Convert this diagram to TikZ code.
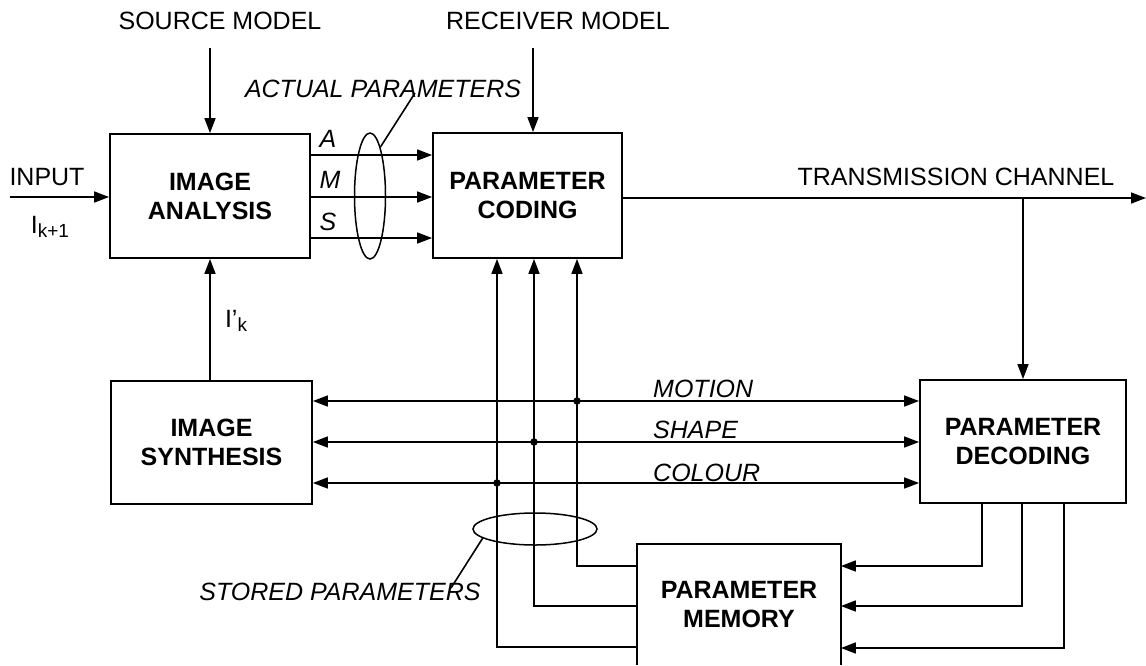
\documentclass[tikz,border=0pt]{standalone}
\usepackage{fontspec}
\setmainfont{Liberation Sans}
\usetikzlibrary{arrows.meta,calc,shapes.geometric}
\newcommand{\lowsub}[1]{\raisebox{-4pt}{\fontsize{19}{20}\selectfont #1}}
\begin{document}
\begin{tikzpicture}[x=1pt,y=-1pt,
  every node/.style={font=\fontsize{25}{29}\selectfont, inner sep=0pt},
  box/.style={draw, line width=1.8pt, font=\fontsize{25}{29}\selectfont\bfseries, align=center},
  ln/.style={line width=1.6pt},
  arr/.style={ln, -{Triangle[length=15pt,width=11pt]}},
  darr/.style={ln, {Triangle[length=15pt,width=11pt]}-{Triangle[length=15pt,width=11pt]}},
  txt/.style={anchor=base},
  lbl/.style={anchor=base, font=\fontsize{25}{29}\selectfont\itshape},
  dot/.style={circle, fill, inner sep=0pt, minimum size=7.5pt},
  ell/.style={draw, ellipse, line width=1.5pt, inner sep=0pt}]

\useasboundingbox (0,0) rectangle (1146,665);

% boxes
\node[box, minimum width=200pt, minimum height=124pt] (ia) at (210,196) {IMAGE\\ANALYSIS};
\node[box, minimum width=189pt, minimum height=125pt] (pc) at (527.5,195.5) {PARAMETER\\CODING};
\node[box, minimum width=201pt, minimum height=123pt] (is) at (211.5,442.5) {IMAGE\\SYNTHESIS};
\node[box, minimum width=206pt, minimum height=123pt] (pd) at (1023,441.5) {PARAMETER\\DECODING};
\node[box, draw=none, minimum width=202pt, minimum height=119pt] (pm) at (739,604.5) {PARAMETER\\MEMORY};
\draw[line width=1.8pt] (pm.south west) -- (pm.north west) -- (pm.north east) -- (pm.south east);

% texts
\node[txt] (src) at (220,29) {SOURCE MODEL};
\node[txt] (rcv) at (558,29) {RECEIVER MODEL};
\node[lbl] (act) at (383,97) {ACTUAL PARAMETERS};
\node[txt] (inp) at (47,185) {INPUT};
\node[txt] (ik1) at (50,233) {I\lowsub{k+1}};
\node[txt] (ikp) at (236,327) {I’\lowsub{k}};
\node[txt] (tx) at (956,185) {TRANSMISSION CHANNEL};
\node[lbl] (la) at (328,147) {A};
\node[lbl] (lm) at (330,188) {M};
\node[lbl] (ls) at (328,230) {S};
\node[lbl, anchor=base west] (mot) at (653,397) {MOTION};
\node[lbl, anchor=base west] (shp) at (653,438) {SHAPE};
\node[lbl, anchor=base west] (col) at (653,481) {COLOUR};
\node[lbl] (sto) at (340,600) {STORED PARAMETERS};

% coordinates
\coordinate (srcA) at (210,48);
\coordinate (rcvA) at (533,48);
\coordinate (inA) at (10,197);
\coordinate (txE) at (1146,198);
\coordinate (txJ) at (1023,198);
\coordinate (ya) at (0,155);
\coordinate (yb) at (0,197);
\coordinate (yc) at (0,238);
\coordinate (ym) at (0,401);
\coordinate (ys) at (0,442);
\coordinate (yo) at (0,483);
\coordinate (f1) at (577,566);
\coordinate (f2) at (534,606);
\coordinate (f3) at (497,647);
\coordinate (g1) at (982,566);
\coordinate (g2) at (1022,606);
\coordinate (g3) at (1064,648);
\coordinate (aeL) at (415,93);
\coordinate (seL) at (451,588);

% ellipses
\node[ell, minimum width=31pt, minimum height=126pt] (ae) at (370,196) {};
\node[ell, minimum width=124pt, minimum height=32pt] (se) at (535,529) {};
\draw[ln] (ae.78) -- (aeL);
\draw[ln] (se.190) -- (seL);

% connectors
\draw[arr] (srcA) -- (srcA |- ia.north);
\draw[arr] (rcvA) -- (rcvA |- pc.north);
\draw[arr] (inA) -- (inA -| ia.west);
\draw[arr] (ia.east |- ya) -- (pc.west |- ya);
\draw[arr] (ia.east |- yb) -- (pc.west |- yb);
\draw[arr] (ia.east |- yc) -- (pc.west |- yc);
\draw[arr] (pc.east |- txJ) -- (txE);
\draw[arr] (txJ) -- (pd.north);
\draw[arr] (is.north -| ia.south) -- (ia.south);
\draw[darr] (is.east |- ym) -- (pd.west |- ym);
\draw[darr] (is.east |- ys) -- (pd.west |- ys);
\draw[darr] (is.east |- yo) -- (pd.west |- yo);
\draw[arr] (pm.west |- f1) -| (pc.south -| f1);
\draw[arr] (pm.west |- f2) -| (pc.south -| f2);
\draw[arr] (pm.west |- f3) -| (pc.south -| f3);
\node[dot] (d1) at (f1 |- ym) {};
\node[dot] (d2) at (f2 |- ys) {};
\node[dot] (d3) at (f3 |- yo) {};
\draw[arr] (pd.south -| g1) |- (pm.east |- g1);
\draw[arr] (pd.south -| g2) |- (pm.east |- g2);
\draw[arr] (pd.south -| g3) |- (pm.east |- g3);
\end{tikzpicture}
\end{document}
